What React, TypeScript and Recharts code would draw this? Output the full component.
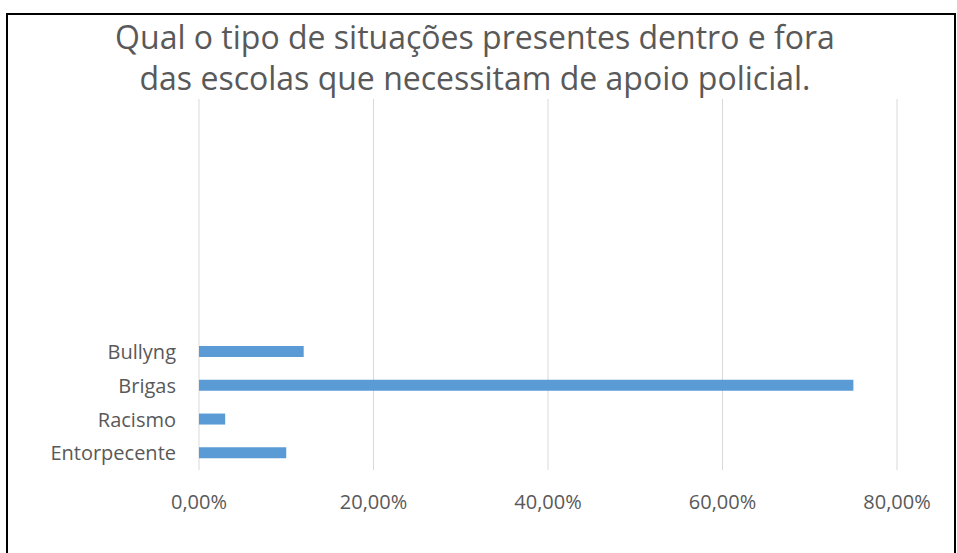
import { BarChart, Bar, XAxis, YAxis, CartesianGrid } from 'recharts';

// top-to-bottom order as drawn; the empty rows keep the upper part of the plot blank
const categories = ['', ' ', '  ', '   ', '    ', '     ', '      ', 'Bullyng', 'Brigas', 'Racismo', 'Entorpecente'];
const values = [null, null, null, null, null, null, null, 0.12, 0.75, 0.03, 0.1];
const xTicks = [0, 0.2, 0.4, 0.6, 0.8];
const titleLines = [
  'Qual o tipo de situações presentes dentro e fora',
  'das escolas que necessitam de apoio policial.',
];

const data = categories.map((name, i) => ({ name, value: values[i] }));

const font = '"Open Sans", Lato, sans-serif';
const textColor = '#595959';

const pct = (v: number) => `${(v * 100).toFixed(2).replace('.', ',')}%`;

export default function App() {
  return (
    <div style={{ position: 'absolute', left: 0, top: 0, width: 957, height: 553, background: '#fff', overflow: 'hidden' }}>
      <div
        style={{
          position: 'absolute', left: 6, top: 13, width: 946, height: 560,
          borderLeft: '2px solid #000', borderTop: '2px solid #000', borderRight: '2px solid #000',
        }}
      />
      <div
        style={{
          position: 'absolute', left: 0, top: 16, width: 950, textAlign: 'center',
          fontFamily: font, fontSize: 32, lineHeight: '41px', color: textColor,
        }}
      >
        {titleLines.map((t) => <div key={t}>{t}</div>)}
      </div>
      <div style={{ position: 'absolute', left: 0, top: 0 }}>
        <BarChart
          width={957}
          height={553}
          data={data}
          layout="vertical"
          margin={{ top: 99, right: 60, bottom: 53, left: 0 }}
          barCategoryGap={0}
        >
          <CartesianGrid horizontal={false} stroke="#d9d9d9" strokeWidth={1} />
          <XAxis
            type="number"
            domain={[0, 0.8]}
            ticks={xTicks}
            tickFormatter={pct}
            axisLine={false}
            tickLine={false}
            tickSize={0}
            tickMargin={25}
            height={30}
            tick={{ fontFamily: font, fontSize: 20, fill: textColor }}
          />
          <YAxis
            type="category"
            dataKey="name"
            width={199}
            axisLine={false}
            tickLine={false}
            tickSize={0}
            tickMargin={23}
            interval={0}
            tick={{ fontFamily: font, fontSize: 20, fill: textColor }}
          />
          <Bar dataKey="value" fill="#5b9bd5" barSize={11} isAnimationActive={false} />
        </BarChart>
      </div>
    </div>
  );
}
